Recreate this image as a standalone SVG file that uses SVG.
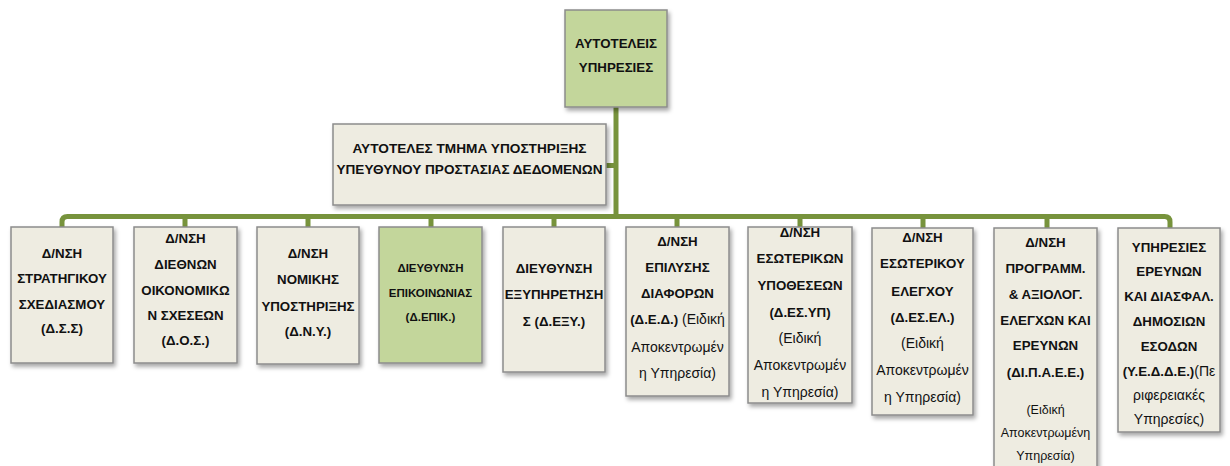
<svg xmlns="http://www.w3.org/2000/svg" width="1230" height="466" viewBox="0 0 1230 466">
<defs>
<filter id="sh" x="-10%" y="-10%" width="125%" height="125%">
<feDropShadow dx="2" dy="3" stdDeviation="2" flood-color="#000" flood-opacity="0.35"/>
</filter>
<style>
.box{fill:#eeece1;stroke:#8c8c8c;stroke-width:1.5;filter:url(#sh)}
.gbox{fill:#c3d69b;stroke:#8c8c8c;stroke-width:1.5;filter:url(#sh)}
text{font-family:"Liberation Sans",Arial,sans-serif;fill:#111;text-anchor:middle}
.b{font-weight:bold;font-size:13.3px}
.bs{font-weight:bold;font-size:11.5px}
.n{font-weight:normal;font-size:14px}
.s{font-weight:normal;font-size:12.5px}
.ln{fill:none;stroke:#77933c;stroke-width:5}
</style>
</defs>
<rect width="1230" height="466" fill="#fff"/>
<g id="connectors">
<path class="ln" d="M616 107 V216.5"/>
<path class="ln" d="M606 165.5 H616"/>
<path class="ln" d="M62 228 V222 Q62 216.5 67.5 216.5 H1164.5 Q1170 216.5 1170 222 V228"/>
<path class="ln" d="M185 216 V228 M308 216 V228 M431 216 V228 M554 216 V228 M677 216 V228 M800 216 V228 M923 216 V228 M1047 216 V228"/>
</g>
<g id="top">
<rect class="gbox" x="565" y="10" width="102" height="97"/>
<text class="b" x="616" y="47.5">ΑΥΤΟΤΕΛΕΙΣ</text>
<text class="b" x="616" y="71.5">ΥΠΗΡΕΣΙΕΣ</text>
</g>
<g id="support">
<rect class="box" x="333" y="124" width="273" height="81"/>
<text class="b" x="469.5" y="152.5" textLength="234" lengthAdjust="spacingAndGlyphs">ΑΥΤΟΤΕΛΕΣ ΤΜΗΜΑ ΥΠΟΣΤΗΡΙΞΗΣ</text>
<text class="b" x="469.5" y="174" textLength="266" lengthAdjust="spacingAndGlyphs">ΥΠΕΥΘΥΝΟΥ ΠΡΟΣΤΑΣΙΑΣ ΔΕΔΟΜΕΝΩΝ</text>
</g>
<g id="dss">
<rect class="box" x="11" y="227" width="102" height="136"/>
<text class="b" x="62" y="258">Δ/ΝΣΗ</text>
<text class="b" x="62" y="283">ΣΤΡΑΤΗΓΙΚΟΥ</text>
<text class="b" x="62" y="309">ΣΧΕΔΙΑΣΜΟΥ</text>
<text class="b" x="62" y="333">(Δ.Σ.Σ)</text>
</g>
<g id="dos">
<rect class="box" x="134" y="227" width="103" height="136"/>
<text class="b" x="185.5" y="243">Δ/ΝΣΗ</text>
<text class="b" x="185.5" y="269">ΔΙΕΘΝΩΝ</text>
<text class="b" x="185.5" y="295">ΟΙΚΟΝΟΜΙΚΩ</text>
<text class="b" x="185.5" y="320">Ν ΣΧΕΣΕΩΝ</text>
<text class="b" x="185.5" y="345">(Δ.Ο.Σ.)</text>
</g>
<g id="dny">
<rect class="box" x="257" y="227" width="102" height="137"/>
<text class="b" x="308" y="258">Δ/ΝΣΗ</text>
<text class="b" x="308" y="284">ΝΟΜΙΚΗΣ</text>
<text class="b" x="308" y="311">ΥΠΟΣΤΗΡΙΞΗΣ</text>
<text class="b" x="308" y="336">(Δ.Ν.Υ.)</text>
</g>
<g id="depik">
<rect class="gbox" x="379" y="227" width="103" height="136"/>
<text class="bs" x="430.5" y="272">ΔΙΕΥΘΥΝΣΗ</text>
<text class="bs" x="430.5" y="297">ΕΠΙΚΟΙΝΩΝΙΑΣ</text>
<text class="bs" x="430.5" y="321">(Δ.ΕΠΙΚ.)</text>
</g>
<g id="dexy">
<rect class="box" x="503" y="227" width="102" height="145"/>
<text class="b" x="554" y="272.5">ΔΙΕΥΘΥΝΣΗ</text>
<text class="b" x="554" y="298.5">ΕΞΥΠΗΡΕΤΗΣΗ</text>
<text class="b" x="554" y="325.5">Σ (Δ.ΕΞΥ.)</text>
</g>
<g id="ded">
<rect class="box" x="626" y="227" width="103" height="169"/>
<text class="b" x="677.5" y="245.5">Δ/ΝΣΗ</text>
<text class="b" x="677.5" y="271.5">ΕΠΙΛΥΣΗΣ</text>
<text class="b" x="677.5" y="297.5">ΔΙΑΦΟΡΩΝ</text>
<text class="b" x="677.5" y="323.5">(Δ.Ε.Δ.)<tspan class="n"> (Ειδική</tspan></text>
<text class="n" x="677.5" y="351.5">Αποκεντρωμέν</text>
<text class="n" x="677.5" y="377.5">η Υπηρεσία)</text>
</g>
<g id="desyp">
<rect class="box" x="748" y="227" width="104" height="176"/>
<text class="b" x="800" y="236.5">Δ/ΝΣΗ</text>
<text class="b" x="800" y="262.5">ΕΣΩΤΕΡΙΚΩΝ</text>
<text class="b" x="800" y="289.5">ΥΠΟΘΕΣΕΩΝ</text>
<text class="b" x="800" y="316.5">(Δ.ΕΣ.ΥΠ)</text>
<text class="n" x="800" y="342.5">(Ειδική</text>
<text class="n" x="800" y="369.5">Αποκεντρωμέν</text>
<text class="n" x="800" y="396.5">η Υπηρεσία)</text>
</g>
<g id="desel">
<rect class="box" x="872" y="228" width="101" height="187"/>
<text class="b" x="922.5" y="241.5">Δ/ΝΣΗ</text>
<text class="b" x="922.5" y="267.5">ΕΣΩΤΕΡΙΚΟΥ</text>
<text class="b" x="922.5" y="295.5">ΕΛΕΓΧΟΥ</text>
<text class="b" x="922.5" y="321.5">(Δ.ΕΣ.ΕΛ.)</text>
<text class="n" x="922.5" y="347.5">(Ειδική</text>
<text class="n" x="922.5" y="374.5">Αποκεντρωμέν</text>
<text class="n" x="922.5" y="401.5">η Υπηρεσία)</text>
</g>
<g id="dipaee">
<rect class="box" x="994" y="228" width="103" height="250"/>
<text class="b" x="1045.5" y="246.5">Δ/ΝΣΗ</text>
<text class="b" x="1045.5" y="272.5">ΠΡΟΓΡΑΜΜ.</text>
<text class="b" x="1045.5" y="298.5">&amp; ΑΞΙΟΛΟΓ.</text>
<text class="b" x="1045.5" y="324.5">ΕΛΕΓΧΩΝ ΚΑΙ</text>
<text class="b" x="1045.5" y="349.5">ΕΡΕΥΝΩΝ</text>
<text class="b" x="1045.5" y="376.5">(ΔΙ.Π.Α.Ε.Ε.)</text>
<text class="s" x="1045.5" y="414">(Ειδική</text>
<text class="s" x="1045.5" y="436.5">Αποκεντρωμένη</text>
<text class="s" x="1045.5" y="459.5">Υπηρεσία)</text>
</g>
<g id="yedde">
<rect class="box" x="1118" y="228" width="102" height="204"/>
<text class="b" x="1169" y="251.5">ΥΠΗΡΕΣΙΕΣ</text>
<text class="b" x="1169" y="275.5">ΕΡΕΥΝΩΝ</text>
<text class="b" x="1169" y="300.5">ΚΑΙ ΔΙΑΣΦΑΛ.</text>
<text class="b" x="1169" y="325.5">ΔΗΜΟΣΙΩΝ</text>
<text class="b" x="1169" y="350.5">ΕΣΟΔΩΝ</text>
<text class="b" x="1169" y="375.5">(Υ.Ε.Δ.Δ.Ε.)<tspan class="n">(Πε</tspan></text>
<text class="n" x="1169" y="399.5">ριφερειακές</text>
<text class="n" x="1169" y="424">Υπηρεσίες)</text>
</g>
</svg>
